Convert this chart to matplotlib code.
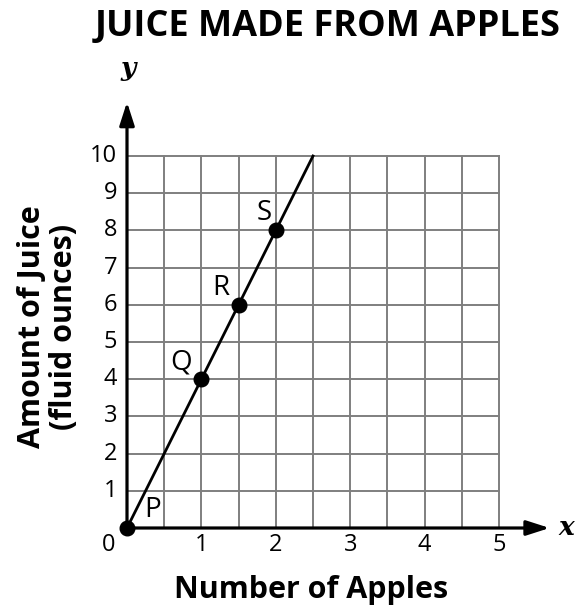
import matplotlib
matplotlib.use("Agg")
import matplotlib.pyplot as plt
import numpy as np

plt.rcParams['font.family'] = ['Open Sans', 'DejaVu Sans']

# Data
point_labels = ["P", "Q", "R", "S"]
apples = [0, 1, 1.5, 2]
juice = [0, 4, 6, 8]
line_x = [0, 2.5]
line_y = [0, 10]
x_ticks = [1, 2, 3, 4, 5]
y_ticks = [1, 2, 3, 4, 5, 6, 7, 8, 9, 10]

fig = plt.figure(figsize=(5.77, 6.10), dpi=100)
ax = fig.add_axes([127/577, 82/610, 372/577, 372/610])
ax.set_xlim(0, 5)
ax.set_ylim(0, 10)

grid_color = "#7f7f7f"
for gx in np.arange(0.5, 5.01, 0.5):
    ax.plot([gx, gx], [0, 10], color=grid_color, lw=1.4, zorder=1, clip_on=False)
for gy in np.arange(1, 10.01, 1):
    ax.plot([0, 5], [gy, gy], color=grid_color, lw=1.4, zorder=1, clip_on=False)

for s in ax.spines.values():
    s.set_visible(False)
ax.set_xticks([])
ax.set_yticks([])

# axes with arrows
ax.annotate("", xy=(5.68, 0), xytext=(0, 0), xycoords='data',
            arrowprops=dict(arrowstyle="-|>,head_length=1.4,head_width=0.45", color="black", lw=2.3,
                            shrinkA=0, shrinkB=0), annotation_clip=False, zorder=3)
ax.annotate("", xy=(0, 11.45), xytext=(0, 0), xycoords='data',
            arrowprops=dict(arrowstyle="-|>,head_length=1.4,head_width=0.45", color="black", lw=2.3,
                            shrinkA=0, shrinkB=0), annotation_clip=False, zorder=3)

ax.text(5.9, 0.02, "x", fontsize=19, fontweight='bold', fontstyle='italic',
        family='DejaVu Serif', ha='center', va='center', clip_on=False)
ax.text(0.02, 12.35, "y", fontsize=19, fontweight='bold', fontstyle='italic',
        family='DejaVu Serif', ha='center', va='center', clip_on=False)

# line and points
ax.plot(line_x, line_y, color="black", lw=2, zorder=4, clip_on=False)
ax.plot(apples, juice, 'o', color="black", markersize=10.5, zorder=5, clip_on=False)

offsets = {"P": (0.34, 0.48), "Q": (-0.27, 0.46), "R": (-0.24, 0.45), "S": (-0.16, 0.47)}
for lab, xv, yv in zip(point_labels, apples, juice):
    dx, dy = offsets[lab]
    ax.text(xv + dx, yv + dy, lab, fontsize=20, ha='center', va='center', zorder=6)

# tick labels
for t in x_ticks:
    ax.text(t, -0.45, str(t), fontsize=17, ha='center', va='center')
for t in y_ticks:
    ax.text(-0.13, t, str(t), fontsize=17, ha='right', va='center')
ax.text(-0.25, -0.45, "0", fontsize=17, ha='center', va='center')

fig.text(328/577, 1 - 27/610, "JUICE MADE FROM APPLES", fontsize=26, fontweight='bold',
         ha='center', va='center')
fig.text(311/577, 1 - 590/610, "Number of Apples", fontsize=22, fontweight='bold',
         ha='center', va='center')
fig.text(48/577, 1 - 327/610, "Amount of Juice\n(fluid ounces)", fontsize=22, fontweight='bold',
         ha='center', va='center', rotation=90, linespacing=1.12)

fig.savefig("out.png", dpi=100)
